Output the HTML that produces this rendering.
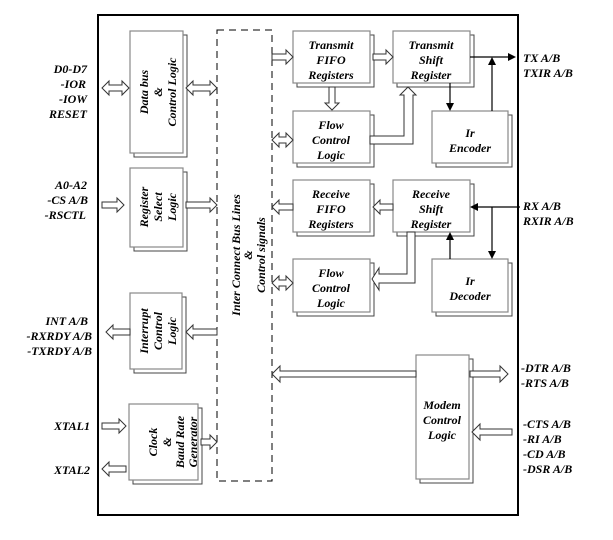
<!DOCTYPE html>
<html><head><meta charset="utf-8"><style>
html,body{margin:0;padding:0;background:#fff}
svg{display:block}
text{font-family:"Liberation Serif",serif;font-weight:bold;font-style:italic;font-size:12px;fill:#000}
.b{fill:#fff;stroke:#888;stroke-width:1.2}
.s{fill:#fff;stroke:#444;stroke-width:1}
.a{fill:#fff;stroke:#333;stroke-width:1}
.l{stroke:#000;stroke-width:1.2;fill:none}
</style></head><body>
<svg width="613" height="540" viewBox="0 0 613 540" xmlns="http://www.w3.org/2000/svg">
<rect x="98" y="15" width="420" height="500" fill="#fff" stroke="#000" stroke-width="2"/>
<rect x="217" y="30" width="55" height="451" fill="none" stroke="#000" stroke-dasharray="7,5"/>
<text transform="translate(240,255) rotate(-90)" text-anchor="middle">Inter Connect Bus Lines</text>
<text transform="translate(252,255) rotate(-90)" text-anchor="middle">&amp;</text>
<text transform="translate(265,255) rotate(-90)" text-anchor="middle">Control signals</text>

<g>
<rect class="s" x="134" y="35" width="53" height="122"/><rect class="b" x="130" y="31" width="53" height="122"/>
<rect class="s" x="134" y="172" width="53" height="79"/><rect class="b" x="130" y="168" width="53" height="79"/>
<rect class="s" x="134" y="297" width="52" height="76"/><rect class="b" x="130" y="293" width="52" height="76"/>
<rect class="s" x="133" y="408" width="69" height="76"/><rect class="b" x="129" y="404" width="69" height="76"/>
<rect class="s" x="297" y="35" width="77" height="52"/><rect class="b" x="293" y="31" width="77" height="52"/>
<rect class="s" x="397" y="35" width="77" height="52"/><rect class="b" x="393" y="31" width="77" height="52"/>
<rect class="s" x="297" y="115" width="77" height="52"/><rect class="b" x="293" y="111" width="77" height="52"/>
<rect class="s" x="436" y="115" width="76" height="52"/><rect class="b" x="432" y="111" width="76" height="52"/>
<rect class="s" x="297" y="184" width="77" height="52"/><rect class="b" x="293" y="180" width="77" height="52"/>
<rect class="s" x="397" y="184" width="77" height="52"/><rect class="b" x="393" y="180" width="77" height="52"/>
<rect class="s" x="297" y="263" width="77" height="53"/><rect class="b" x="293" y="259" width="77" height="53"/>
<rect class="s" x="436" y="263" width="76" height="53"/><rect class="b" x="432" y="259" width="76" height="53"/>
<rect class="s" x="420" y="359" width="53" height="124"/><rect class="b" x="416" y="355" width="53" height="124"/>
</g>

<text transform="translate(148,92) rotate(-90)" text-anchor="middle">Data bus</text>
<text transform="translate(162,92) rotate(-90)" text-anchor="middle">&amp;</text>
<text transform="translate(176,92) rotate(-90)" text-anchor="middle">Control Logic</text>
<text transform="translate(148,207) rotate(-90)" text-anchor="middle">Register</text>
<text transform="translate(162,207) rotate(-90)" text-anchor="middle">Select</text>
<text transform="translate(176,207) rotate(-90)" text-anchor="middle">Logic</text>
<text transform="translate(148,331) rotate(-90)" text-anchor="middle">Interrupt</text>
<text transform="translate(162,331) rotate(-90)" text-anchor="middle">Control</text>
<text transform="translate(176,331) rotate(-90)" text-anchor="middle">Logic</text>
<text transform="translate(157,442) rotate(-90)" text-anchor="middle">Clock</text>
<text transform="translate(171,442) rotate(-90)" text-anchor="middle">&amp;</text>
<text transform="translate(184,442) rotate(-90)" text-anchor="middle">Baud Rate</text>
<text transform="translate(197,442) rotate(-90)" text-anchor="middle">Generator</text>

<g text-anchor="middle">
<text x="331" y="49">Transmit</text><text x="331" y="64">FIFO</text><text x="331" y="79">Registers</text>
<text x="431" y="49">Transmit</text><text x="431" y="64">Shift</text><text x="431" y="79">Register</text>
<text x="331" y="129">Flow</text><text x="331" y="144">Control</text><text x="331" y="159">Logic</text>
<text x="470" y="137">Ir</text><text x="470" y="152">Encoder</text>
<text x="331" y="198">Receive</text><text x="331" y="213">FIFO</text><text x="331" y="228">Registers</text>
<text x="431" y="198">Receive</text><text x="431" y="213">Shift</text><text x="431" y="228">Register</text>
<text x="331" y="277">Flow</text><text x="331" y="292">Control</text><text x="331" y="307">Logic</text>
<text x="470" y="285">Ir</text><text x="470" y="300">Decoder</text>
<text x="442" y="409">Modem</text><text x="442" y="424">Control</text><text x="442" y="439">Logic</text>
</g>

<g class="a">
<polygon points="102,88 109,81 109,85 122,85 122,81 129,88 122,95 122,91 109,91 109,95"/>
<polygon points="186,88 193,81 193,85 210,85 210,81 217,88 210,95 210,91 193,91 193,95"/>
<polygon points="102,202 117,202 117,198 124,205 117,212 117,208 102,208"/>
<polygon points="186,202 210,202 210,198 217,205 210,212 210,208 186,208"/>
<polygon points="130,329 113,329 113,325 106,332 113,339 113,335 130,335"/>
<polygon points="217,329 193,329 193,325 186,332 193,339 193,335 217,335"/>
<polygon points="102,423 119,423 119,419 126,426 119,433 119,429 102,429"/>
<polygon points="126,466 109,466 109,462 102,469 109,476 109,472 126,472"/>
<polygon points="201,439 210,439 210,435 217,442 210,449 210,445 201,445"/>
<polygon points="272,54 286,54 286,50 293,57 286,64 286,60 272,60"/>
<polygon points="373,54 386,54 386,50 393,57 386,64 386,60 373,60"/>
<polygon points="329,87 335,87 335,103 339,103 332,110 325,103 329,103"/>
<polygon points="272,140 279,133 279,137 286,137 286,133 293,140 286,147 286,143 279,143 279,147"/>
<polygon points="370,136 404,136 404,95 400,95 408,87 416,95 413,95 413,144 370,144"/>
<polygon points="393,204 380,204 380,200 373,207 380,214 380,210 393,210"/>
<polygon points="293,204 279,204 279,200 272,207 279,214 279,210 293,210"/>
<polygon points="407,232 415,232 415,283 379,283 379,290 372,279 379,268 379,274 407,274"/>
<polygon points="272,283 279,276 279,280 286,280 286,276 293,283 286,290 286,286 279,286 279,290"/>
<polygon points="272,374 280,366 280,371 416,371 416,377 280,377 280,382"/>
<polygon points="470,371 500,371 500,366 508,374 500,382 500,377 470,377"/>
<polygon points="512,429 480,429 480,424 472,432 480,440 480,435 512,435"/>
</g>

<g class="l">
<line x1="470" y1="57" x2="508" y2="57"/>
<line x1="492" y1="111" x2="492" y2="64"/>
<line x1="450" y1="83" x2="450" y2="104"/>
<line x1="520" y1="207" x2="477" y2="207"/>
<line x1="492" y1="207" x2="492" y2="252"/>
<line x1="450" y1="259" x2="450" y2="239"/>
</g>
<g fill="#000">
<polygon points="508,53 516,57 508,61"/>
<polygon points="488,65 492,57 496,65"/>
<polygon points="446,103 450,111 454,103"/>
<polygon points="478,203 470,207 478,211"/>
<polygon points="488,251 492,259 496,251"/>
<polygon points="446,240 450,232 454,240"/>
</g>

<g text-anchor="end">
<text x="87" y="73">D0-D7</text><text x="86" y="88">-IOR</text><text x="87" y="103">-IOW</text><text x="87" y="118">RESET</text>
<text x="87" y="189">A0-A2</text><text x="88" y="204">-CS A/B</text><text x="86" y="219">-RSCTL</text>
<text x="88" y="325">INT A/B</text><text x="92" y="340">-RXRDY A/B</text><text x="92" y="355">-TXRDY A/B</text>
<text x="90" y="430">XTAL1</text><text x="90" y="474">XTAL2</text>
</g>
<text x="523" y="62">TX A/B</text><text x="523" y="77">TXIR A/B</text>
<text x="523" y="210">RX A/B</text><text x="523" y="225">RXIR A/B</text>
<text x="521" y="372">-DTR A/B</text><text x="521" y="387">-RTS A/B</text>
<text x="523" y="428">-CTS A/B</text><text x="523" y="443">-RI A/B</text><text x="523" y="458">-CD A/B</text><text x="523" y="473">-DSR A/B</text>
</svg>
</body></html>
